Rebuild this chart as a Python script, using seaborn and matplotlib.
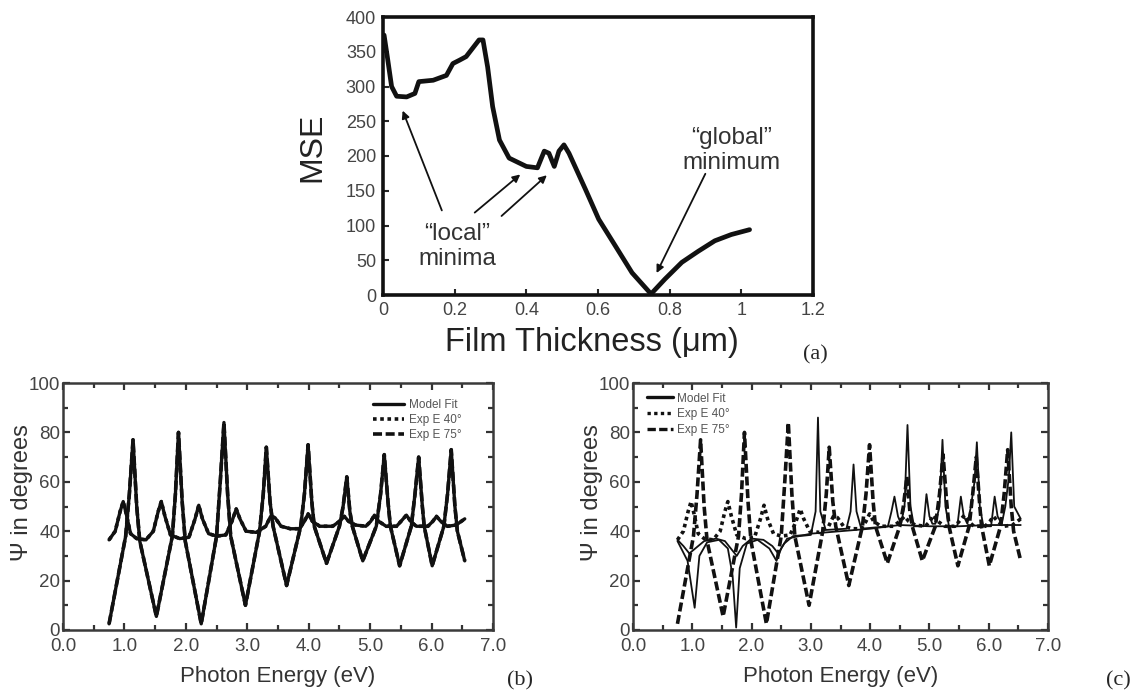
import matplotlib
matplotlib.use("Agg")
import matplotlib.pyplot as plt
import seaborn as sns
import pandas as pd

sns.set_style("ticks")
plt.rcParams['font.family'] = ['Liberation Sans', 'DejaVu Sans']

# ---------------- data: panel (a) ----------------
thick_um = [0.003, 0.012, 0.024, 0.038, 0.066, 0.089, 0.10, 0.14, 0.177, 0.195, 0.214,
            0.232, 0.25, 0.268, 0.279, 0.292, 0.306, 0.325, 0.352, 0.40, 0.431, 0.45,
            0.463, 0.478, 0.491, 0.505, 0.519, 0.565, 0.602, 0.648, 0.695, 0.748,
            0.787, 0.834, 0.88, 0.926, 0.972, 1.023]
mse = [374, 343, 300, 286, 285, 290, 307, 309, 316, 333, 338,
       343, 355, 367, 367, 328, 271, 223, 197, 185, 183, 207,
       204, 185, 207, 216, 204, 152, 109, 71, 32, 1.5,
       23, 47, 63, 78, 87, 94]

# ---------------- data: experiment (shared by b and c) ----------------
e40_x = [0.75, 0.85, 0.93, 0.98, 1.03, 1.10, 1.20, 1.35, 1.47, 1.55, 1.60, 1.66, 1.75,
         1.90, 2.05, 2.15, 2.21, 2.27, 2.37, 2.50, 2.65, 2.75, 2.82, 2.88, 2.98, 3.15,
         3.30, 3.38, 3.45, 3.55, 3.70, 3.85, 3.93, 3.99, 4.06, 4.18, 4.39, 4.50, 4.58,
         4.65, 4.76, 4.93, 5.01, 5.07, 5.14, 5.26, 5.43, 5.52, 5.59, 5.66, 5.75, 5.94,
         6.02, 6.08, 6.15, 6.26, 6.40, 6.54]
e40_y = [36.5, 40, 48, 52, 47, 39, 37, 36.5, 40, 48, 52, 46, 38.5,
         37, 37.5, 45, 50.5, 45, 39, 38, 38.5, 44, 49, 45, 40, 39.5,
         42, 46, 45.5, 42, 41, 41, 44, 47, 44, 42, 42, 44, 46,
         44, 42.5, 42, 44, 46.5, 44, 42, 42, 44.5, 46.5, 44, 42, 42,
         44, 46, 44, 42, 42.5, 45]

e75_x = [0.75, 1.02, 1.08, 1.14, 1.20, 1.25, 1.52, 1.78, 1.83, 1.88, 1.94, 1.99, 2.25,
         2.50, 2.56, 2.62, 2.68, 2.73, 2.97, 3.20, 3.26, 3.31, 3.37, 3.42, 3.64, 3.87,
         3.93, 3.99, 4.05, 4.09, 4.29, 4.50, 4.56, 4.62, 4.67, 4.71, 4.88, 5.10, 5.17,
         5.23, 5.29, 5.33, 5.48, 5.67, 5.73, 5.79, 5.85, 5.88, 6.01, 6.20, 6.26, 6.32,
         6.38, 6.42, 6.54]
e75_y = [2.5, 38, 55, 77, 50, 36, 5.5, 38, 55, 80, 52, 36, 2.5,
         38, 60, 84, 55, 38, 10, 40, 55, 74, 52, 42, 18, 42,
         55, 75, 52, 42, 27, 42, 50, 62, 48, 42, 28, 42, 55,
         71, 52, 42, 26, 42, 55, 70, 50, 42, 26, 42, 55, 73,
         50, 40, 28]

# ---------------- data: model fit (b) - coincides with experiment ----------------
mb40_x = e40_x
mb40_y = e40_y
mb75_x = e75_x
mb75_y = e75_y

# ---------------- data: model fit (c) - poor fit ----------------
mc40_x = [0.75, 0.85, 0.95, 1.05, 1.20, 1.40, 1.55, 1.65, 1.75, 1.85, 2.00, 2.20, 2.35,
          2.45, 2.55, 2.70, 2.90, 3.00, 3.50, 4.00, 4.50, 5.00, 5.50, 6.00, 6.54]
mc40_y = [36.5, 34, 31, 33, 36, 37, 36, 33, 30, 34, 37, 36.5, 34,
          31, 35, 38, 38.5, 39, 40, 41, 42.5, 42, 42, 42.5, 42.5]

mc75_x = [0.75, 0.92, 1.04, 1.12, 1.25, 1.45, 1.60, 1.68, 1.74, 1.80, 1.92, 2.10, 2.30,
          2.42, 2.50, 2.60, 2.80, 3.00, 3.08, 3.12, 3.16, 3.25, 3.60, 3.67, 3.72, 3.77,
          3.85, 4.30, 4.36, 4.41, 4.47, 4.52, 4.58, 4.63, 4.68, 4.74, 4.90, 4.95, 5.00,
          5.05, 5.10, 5.17, 5.22, 5.27, 5.33, 5.47, 5.53, 5.58, 5.64, 5.70, 5.76, 5.80,
          5.85, 5.91, 6.04, 6.10, 6.15, 6.22, 6.28, 6.34, 6.38, 6.43, 6.54]
mc75_y = [36, 28, 9, 30, 35.5, 36.5, 33, 22, 1, 25, 35, 36.5, 33,
          28, 33, 37, 38, 38.5, 48, 86, 48, 40.5, 41, 48, 67, 48,
          41, 42, 48, 54, 46, 43, 50, 83, 50, 42, 42, 55, 46,
          43, 43, 50, 77, 50, 42, 42, 54, 46, 43, 50, 60, 76,
          50, 42, 42, 54, 46, 43, 50, 62, 80, 50, 45]

ink = "#111111"
grey_txt = "#444444"

fig = plt.figure(figsize=(11.48, 6.94), dpi=100)
W, H = 1148, 694

def px_axes(l, t, r, b):
    return fig.add_axes([l / W, 1 - b / H, (r - l) / W, (b - t) / H])

ax_a = px_axes(383, 17, 813, 295)
ax_b = px_axes(63, 383, 493, 630)
ax_c = px_axes(633, 383, 1048, 630)

# ---------- panel (a) ----------
df_a = pd.DataFrame({"t": thick_um, "mse": mse})
sns.lineplot(data=df_a, x="t", y="mse", ax=ax_a, color=ink, lw=3.4, sort=False)
ax_a.set_xlim(0, 1.2)
ax_a.set_ylim(0, 400)
ax_a.set_xticks([0, 0.2, 0.4, 0.6, 0.8, 1.0, 1.2])
ax_a.set_xticklabels(["0", "0.2", "0.4", "0.6", "0.8", "1", "1.2"])
ax_a.set_yticks(range(0, 401, 50))
ax_a.tick_params(direction="in", length=4, width=1.5, labelsize=13,
                 labelcolor=grey_txt, pad=5)
for s in ax_a.spines.values():
    s.set_linewidth(2.6)
    s.set_color(ink)
ax_a.set_xlabel("Film Thickness (\u03bcm)", fontsize=23.5, color="#222222")
ax_a.xaxis.set_label_coords(0.485, -0.115)
ax_a.set_ylabel("MSE", fontsize=23, color="#222222")
ax_a.yaxis.set_label_coords(-0.13, 0.53)

txt_kw = dict(fontsize=17.5, color="#333333", ha="center", va="center", linespacing=1.2)
ax_a.text(0.208, 70, "\u201clocal\u201d\nminima", **txt_kw)
ax_a.text(0.972, 208, "\u201cglobal\u201d\nminimum", **txt_kw)
arr = dict(arrowstyle="-|>", color=ink, lw=1.3, mutation_scale=11)
ax_a.annotate("", xy=(0.052, 269), xytext=(0.167, 118), arrowprops=arr)
ax_a.annotate("", xy=(0.389, 176), xytext=(0.25, 116), arrowprops=arr)
ax_a.annotate("", xy=(0.463, 175), xytext=(0.325, 111), arrowprops=arr)
ax_a.annotate("", xy=(0.76, 28), xytext=(0.903, 178), arrowprops=arr)

# ---------- panels (b) and (c) ----------
df_e40 = pd.DataFrame({"E": e40_x, "psi": e40_y})
df_e75 = pd.DataFrame({"E": e75_x, "psi": e75_y})

def style_psi(ax):
    ax.set_xlim(0, 7)
    ax.set_ylim(0, 100)
    ax.set_xticks([0, 1, 2, 3, 4, 5, 6, 7])
    ax.set_xticklabels(["0.0", "1.0", "2.0", "3.0", "4.0", "5.0", "6.0", "7.0"])
    ax.set_xticks([0.5, 1.5, 2.5, 3.5, 4.5, 5.5, 6.5], minor=True)
    ax.set_yticks(range(0, 101, 20))
    ax.set_yticks(range(10, 100, 20), minor=True)
    ax.tick_params(which="both", direction="in", top=True, right=True,
                   width=1.6, color="#333333")
    ax.tick_params(which="major", length=5, labelsize=13.5, labelcolor=grey_txt)
    ax.tick_params(axis="x", which="major", pad=6)
    ax.tick_params(axis="y", which="major", pad=2)
    ax.tick_params(which="minor", length=3.5)
    for s in ax.spines.values():
        s.set_linewidth(1.8)
        s.set_color("#3a3a3a")
    ax.set_xlabel("Photon Energy (eV)", fontsize=16, color="#333333")
    ax.xaxis.set_label_coords(0.5, -0.145)
    ax.set_ylabel("\u03a8 in degrees", fontsize=17, color="#333333")
    ax.yaxis.set_label_coords(-30 / ax.bbox.width * 1.0, 0.557)

# (b)
l40 = sns.lineplot(data=df_e40, x="E", y="psi", ax=ax_b, color=ink, lw=2.6,
                   linestyle=(0, (1, 1)), sort=False).lines[-1]
l75 = sns.lineplot(data=df_e75, x="E", y="psi", ax=ax_b, color=ink, lw=2.6,
                   linestyle=(0, (2.5, 1)), sort=False).lines[-1]
df_mb40 = pd.DataFrame({"E": mb40_x, "psi": mb40_y})
df_mb75 = pd.DataFrame({"E": mb75_x, "psi": mb75_y})
lm = sns.lineplot(data=df_mb40, x="E", y="psi", ax=ax_b, color=ink, lw=2.4,
                  sort=False).lines[-1]
sns.lineplot(data=df_mb75, x="E", y="psi", ax=ax_b, color=ink, lw=2.4, sort=False)
style_psi(ax_b)
ax_b.legend([lm, l40, l75], ["Model Fit", "Exp E 40\u00b0", "Exp E 75\u00b0"],
            loc="upper right", bbox_to_anchor=(0.94, 0.96), frameon=False,
            fontsize=8.5, handlelength=2.6, labelspacing=0.25, borderpad=0,
            handletextpad=0.4, labelcolor="#555555")

# (c)
c40 = sns.lineplot(data=df_e40, x="E", y="psi", ax=ax_c, color=ink, lw=2.6,
                   linestyle=(0, (1, 1)), sort=False).lines[-1]
c75 = sns.lineplot(data=df_e75, x="E", y="psi", ax=ax_c, color=ink, lw=2.6,
                   linestyle=(0, (2.5, 1)), sort=False).lines[-1]
df_mc40 = pd.DataFrame({"E": mc40_x, "psi": mc40_y})
df_mc75 = pd.DataFrame({"E": mc75_x, "psi": mc75_y})
cm = sns.lineplot(data=df_mc40, x="E", y="psi", ax=ax_c, color=ink, lw=1.3,
                  sort=False).lines[-1]
sns.lineplot(data=df_mc75, x="E", y="psi", ax=ax_c, color=ink, lw=1.3, sort=False)
style_psi(ax_c)
leg_c = ax_c.legend([cm, c40, c75], ["Model Fit", "Exp E 40\u00b0", "Exp E 75\u00b0"],
                    loc="upper left", bbox_to_anchor=(0.02, 0.985), frameon=False,
                    fontsize=8.5, handlelength=2.2, labelspacing=0.3, borderpad=0,
                    handletextpad=0.3, labelcolor="#555555")
for h in leg_c.legend_handles:
    h.set_linewidth(2.4)

# panel letters
serif = ['Liberation Serif', 'DejaVu Serif']
fig.text(803 / W, 1 - 355 / H, "(a)", family=serif, fontsize=16, va="center")
fig.text(507 / W, 1 - 681 / H, "(b)", family=serif, fontsize=16, va="center")
fig.text(1106 / W, 1 - 681 / H, "(c)", family=serif, fontsize=16, va="center")

fig.savefig("out.png", dpi=100)
